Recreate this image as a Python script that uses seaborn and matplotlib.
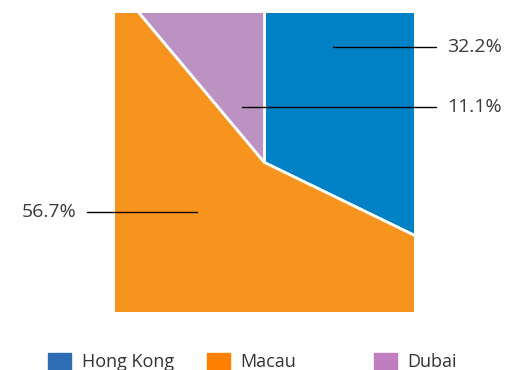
import matplotlib
matplotlib.use("Agg")
import matplotlib.pyplot as plt
import matplotlib.patches as mpatches
import seaborn as sns

# Data
regions = ['Hong Kong', 'Macau', 'Dubai']
shares = [32.2, 56.7, 11.1]
pie_colors = ['#0081c6', '#f7941d', '#bc92c2']
legend_colors = ['#2e6db4', '#ff8000', '#c07ec0']

sns.set_style("white")
plt.rcParams['font.family'] = ['Open Sans', 'DejaVu Sans']

fig = plt.figure(figsize=(5.12, 3.70), dpi=100)
# square plotting box, pie is bigger than the box and gets clipped
ax = fig.add_axes([115 / 512, 58 / 370, 299 / 512, 299 / 370])
wedges, _ = ax.pie(shares, colors=pie_colors, startangle=90, counterclock=False,
                   radius=2.0, wedgeprops=dict(edgecolor='white', linewidth=2))
for w in wedges:
    w.set_clip_on(True)
ax.set_xlim(-1, 1)
ax.set_ylim(-1, 1)
ax.set_aspect('auto')
ax.axis('off')

# leader lines + labels (anchor inside slice, text outside box)
label_pos = {
    'Hong Kong': ((0.46, 0.77), (1.15, 0.77), 'left'),
    'Dubai': ((-0.15, 0.37), (1.15, 0.37), 'left'),
    'Macau': ((-0.45, -0.33), (-1.19, -0.33), 'right'),
}
for name, val in zip(regions, shares):
    (x0, y0), (x1, y1), ha = label_pos[name]
    ax.plot([x0, x1], [y0, y1], color='black', lw=1, clip_on=False)
    tx = x1 + (0.07 if ha == 'left' else -0.07)
    ax.text(tx, y1, f'{val}%', ha=ha, va='center', fontsize=14,
            color='#3a3a3a', clip_on=False)

# legend, one entry per block
legend_x = [32 / 512, 191 / 512, 358 / 512]
for name, c, lx in zip(regions, legend_colors, legend_x):
    h = mpatches.Patch(color=c, label=name)
    fig.legend(handles=[h], loc='center left', bbox_to_anchor=(lx, 8 / 370),
               frameon=False, fontsize=13, handlelength=1.25, handleheight=1.1,
               handletextpad=0.6, labelcolor='#333333')

fig.savefig('out.png', dpi=100)
